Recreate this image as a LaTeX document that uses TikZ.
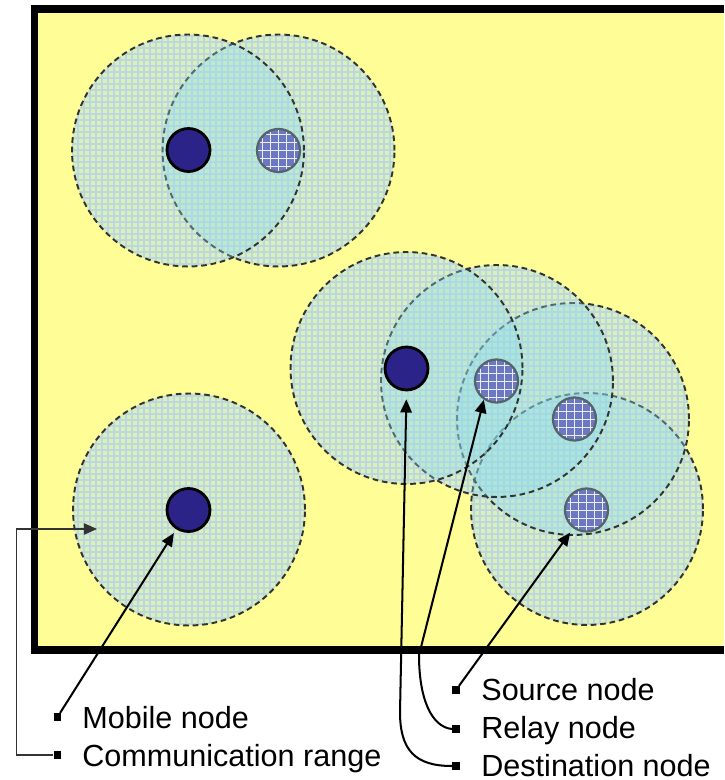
\documentclass[tikz,border=0pt]{standalone}
\usepackage{fontspec}
\setmainfont{Liberation Sans}
\usetikzlibrary{arrows.meta}
\definecolor{bgyellow}{RGB}{255,253,150}
\definecolor{rangec}{RGB}{140,220,240}
\definecolor{gridc}{RGB}{212,214,222}
\definecolor{dashc}{RGB}{50,50,50}
\definecolor{mobc}{RGB}{43,35,135}
\definecolor{relc}{RGB}{108,120,192}
\definecolor{relb}{RGB}{85,100,105}
\begin{document}
\begin{tikzpicture}[x=0.02cm,y=-0.02cm,
  commrange/.style={circle, minimum size=4.64cm, inner sep=0pt, draw=dashc, line width=1.1pt,
    dash pattern=on 3.2pt off 2.2pt, fill=rangec, fill opacity=0.33},
  mobile/.style={circle, minimum size=0.86cm, inner sep=0pt, fill=mobc, draw=black, line width=1.6pt},
  relay/.style={circle, minimum size=0.86cm, inner sep=0pt, fill=relc, draw=relb, line width=1.3pt,
    path picture={\draw[white!85!relc, line width=0.45pt, step=0.16cm]
      ([shift={(-0.1cm,-0.1cm)}]path picture bounding box.south west) grid
      ([shift={(0.1cm,0.1cm)}]path picture bounding box.north east);}},
  bullet/.style={rectangle, minimum size=0.15cm, inner sep=0pt, fill=black},
  lbl/.style={anchor=base west, inner sep=0pt, font=\fontsize{17.4}{20}\selectfont},
  arr/.style={-{Triangle[length=7.5pt,width=6.5pt]}, line width=1.15pt, black},
  ]
\useasboundingbox (0,0) rectangle (724,780);
\fill[white] (0,0) rectangle (724,780);
% yellow field
\fill[bgyellow] (34.5,9) rectangle (724,650);
% grid texture under the communication ranges
\begin{scope}
  \clip (278.5,150.5) circle[radius=2.32cm] (188,150.5) circle[radius=2.32cm]
        (189,509.5) circle[radius=2.32cm] (587,509) circle[radius=2.32cm]
        (573,419) circle[radius=2.32cm] (497,381) circle[radius=2.32cm]
        (406.5,368) circle[radius=2.32cm];
  \draw[gridc, line width=0.75pt, step=0.12cm] (0,780) grid (724,0);
\end{scope}
% communication ranges
\node[commrange] (c2) at (278.5,150.5) {};
\node[commrange] (c1) at (188,150.5) {};
\node[commrange] (c3) at (189,509.5) {};
\node[commrange] (c7) at (587,509) {};
\node[commrange] (c6) at (573,419) {};
\node[commrange] (c5) at (497,381) {};
\node[commrange] (c4) at (406.5,368) {};
% frame
\draw[line width=4.25pt, line join=miter] (724,9) -- (34.5,9) -- (34.5,650) -- (724,650);
% nodes
\node[mobile] (m1) at (188.5,150) {};
\node[relay]  (r1) at (278.5,150.5) {};
\node[mobile] (m3) at (188.5,510) {};
\node[mobile] (d)  at (406.5,368.5) {};
\node[relay]  (rl) at (496.5,381) {};
\node[relay]  (n3) at (574.5,419) {};
\node[relay]  (s)  at (586.5,510) {};
% legend
\node[bullet] (bm) at (57.5,717) {};
\node[bullet] (bc) at (57.5,755) {};
\node[bullet] (bs) at (456,690) {};
\node[bullet] (br) at (456,729) {};
\node[bullet] (bd) at (456,766) {};
\node[lbl] (tm) at (82,728) {Mobile node};
\node[lbl] (tc) at (82,766.5) {Communication range};
\node[lbl] (ts) at (481,700) {Source node};
\node[lbl] (tr) at (481,738) {Relay node};
\node[lbl] (td) at (481,776) {Destination node};
% connectors
\coordinate (crt) at (97,529);
\draw[arr, line width=0.75pt, draw=black!80] (bc.west) -- ++(-37,0) |- (crt);
\draw[arr, shorten >=2.5pt] (bm) -- (m3);
\draw[arr, shorten >=3pt] (bs) -- (s);
\draw[arr] (br.west) .. controls (432,727) and (419,700) .. (419,655) -- (rl.236);
\draw[arr, shorten >=4.5pt] (bd.west) .. controls (415,766) and (400,750) .. (400,712) -- (d.south);
\end{tikzpicture}
\end{document}
